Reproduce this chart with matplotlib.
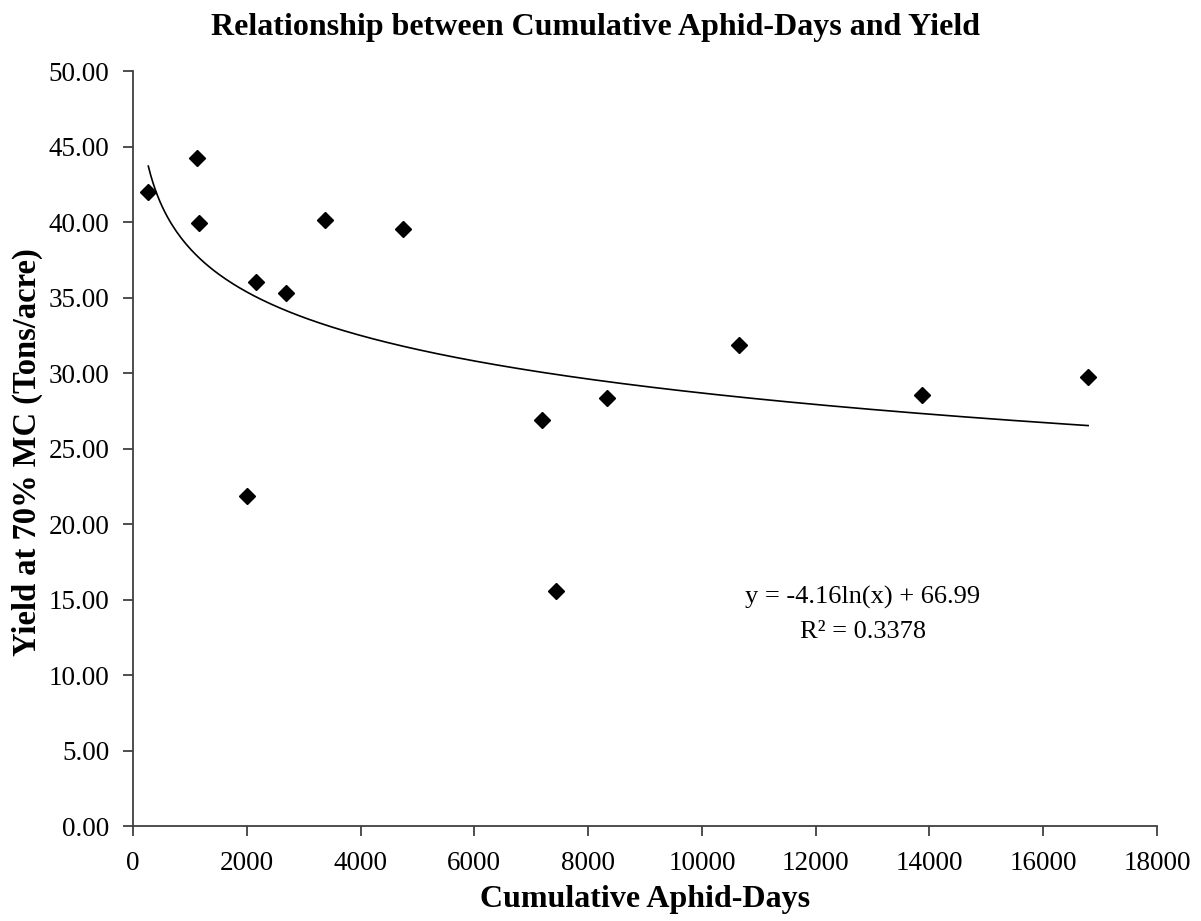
import numpy as np
import matplotlib
matplotlib.use("Agg")
import matplotlib.pyplot as plt
from matplotlib.ticker import FormatStrFormatter

# 数据
aphid_days = [270, 1123, 1163, 2170, 2690, 3368, 4749, 2005, 7193, 7444, 8328, 10649, 13872, 16789]
yield_tons = [42.00, 44.26, 39.93, 36.05, 35.28, 40.13, 39.54, 21.85, 26.89, 15.58, 28.34, 31.85, 28.56, 29.76]

# 趋势线系数（来自图中标注）
TREND_SLOPE = -4.16
TREND_INTERCEPT = 66.99
TREND_LABEL = "y = -4.16ln(x) + 66.99\nR² = 0.3378"

x_ticks = list(range(0, 18001, 2000))
y_ticks = [0, 5, 10, 15, 20, 25, 30, 35, 40, 45, 50]

plt.rcParams['font.family'] = ['Liberation Serif', 'DejaVu Serif']

fig = plt.figure(figsize=(12.01, 9.21), dpi=100)
ax = fig.add_axes([0.1107, 0.1031, 0.9634 - 0.1107, 0.9229 - 0.1031])

ax.plot(aphid_days, yield_tons, linestyle='none', marker='D', markersize=8.5,
        color='black', zorder=3)

# 对数趋势线
xs = np.linspace(min(aphid_days), max(aphid_days), 400)
ax.plot(xs, TREND_SLOPE * np.log(xs) + TREND_INTERCEPT, color='black', linewidth=1.2, zorder=2)

ax.text(12825, 14.0, TREND_LABEL, ha='center', va='center', fontsize=19,
        linespacing=1.72)

ax.set_xlim(0, 18000)
ax.set_ylim(0, 50)
ax.set_xticks(x_ticks)
ax.set_yticks(y_ticks)
ax.yaxis.set_major_formatter(FormatStrFormatter('%.2f'))

for side in ['top', 'right']:
    ax.spines[side].set_visible(False)
for side in ['left', 'bottom']:
    ax.spines[side].set_color('#404040')
    ax.spines[side].set_linewidth(1.3)
ax.tick_params(direction='out', length=7, width=1.3, color='#404040',
               labelsize=19.5)
ax.tick_params(axis='y', pad=10)
ax.tick_params(axis='x', pad=11)

ax.set_xlabel('Cumulative Aphid-Days', fontsize=23, fontweight='bold', va='center')
ax.xaxis.set_label_coords(0.5, -0.0967)
ax.set_ylabel('Yield at 70% MC (Tons/acre)', fontsize=23.5, fontweight='bold', va='center')
ax.yaxis.set_label_coords(-0.1035, 0.495)

fig.text(0.4958, 1 - 27 / 921, 'Relationship between Cumulative Aphid-Days and Yield',
         fontsize=23, fontweight='bold', ha='center', va='center')

fig.savefig('out.png', dpi=100)
